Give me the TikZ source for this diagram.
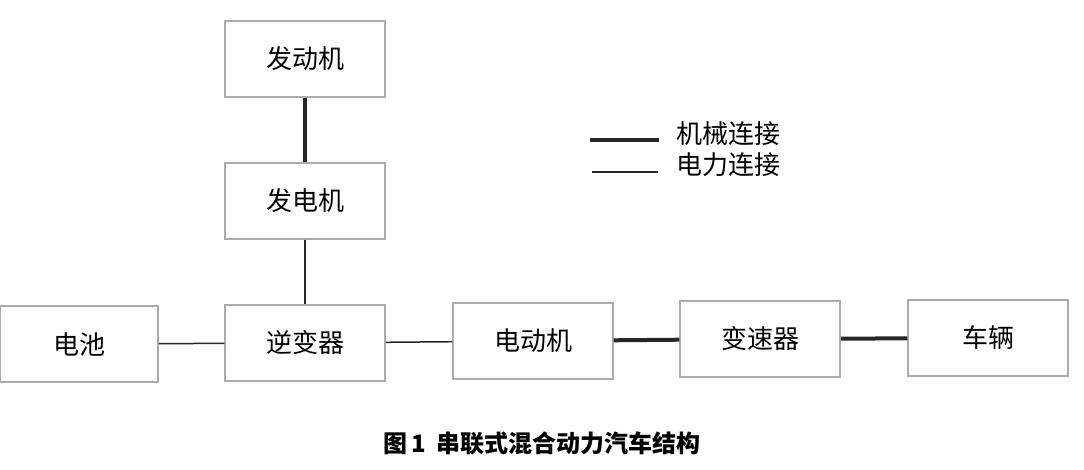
\documentclass[tikz,border=0pt]{standalone}
\usepackage{fontspec}
\setmainfont{Noto Sans CJK SC}
\usetikzlibrary{positioning}
\tikzset{
  block/.style={draw=gray!65,line width=1.5pt,fill=white,minimum width=160pt,minimum height=76pt,inner sep=0pt,font=\fontsize{26}{30}\selectfont},
  mech/.style={line width=4pt,black!85},
  elec/.style={line width=1.5pt,black!85}
}

\begin{document}
\begin{tikzpicture}[x=1pt,y=-1pt]
        \useasboundingbox (0,0) rectangle (1084,469);
        % blocks
        \node[block] (eng) at (305,59) {发动机};
        \node[block] (gen) at (305,201) {发电机};
        \node[block,minimum width=158pt] (bat) at (79,344) {电池};
        \node[block] (inv) at (305,343) {逆变器};
        \node[block] (mot) at (533,341) {电动机};
        \node[block] (gear) at (760,339) {变速器};
        \node[block] (veh) at (988,338) {车辆};
        % connections
        \draw[mech] (eng) -- (gen);
        \draw[elec] (gen) -- (inv);
        \draw[elec] (bat) -- (inv);
        \draw[elec] (inv) -- (mot);
        \draw[mech] (mot) -- (gear);
        \draw[mech] (gear) -- (veh);
        % legend
        \coordinate (m1) at (590,140);
        \coordinate (m2) at (659,140);
        \coordinate (e1) at (592,172);
        \coordinate (e2) at (658,172);
        \draw[mech] (m1) -- (m2);
        \draw[elec] (e1) -- (e2);
        \node[anchor=west,inner sep=0pt,font=\fontsize{26}{30}\selectfont] (mlab) at (676,134) {机械连接};
        \node[anchor=west,inner sep=0pt,font=\fontsize{26}{30}\selectfont] (elab) at (676,165) {电力连接};
        % caption
        \node[font=\fontsize{24}{28}\selectfont\bfseries] (cap) at (542,443) {图\,1\ \ 串联式混合动力汽车结构};
    \end{tikzpicture}
\end{document}
